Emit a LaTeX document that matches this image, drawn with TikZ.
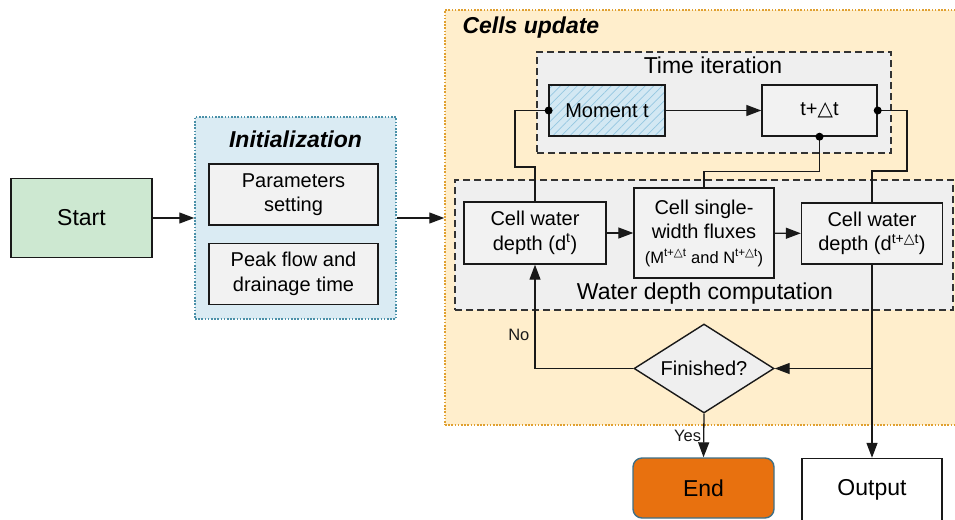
\documentclass[tikz,border=0pt]{standalone}
\usepackage{fontspec}
\setmainfont{Liberation Sans}
\newfontfamily\symfont{DejaVu Sans}
\usepackage{tikz}
\usetikzlibrary{arrows.meta,shapes.geometric,patterns.meta}

\definecolor{startgreen}{HTML}{CDE8D1}
\definecolor{initfill}{HTML}{DAEBF3}
\definecolor{initline}{HTML}{4A90A8}
\definecolor{cellsfill}{HTML}{FFEECC}
\definecolor{cellsline}{HTML}{E0A030}
\definecolor{zonegray}{HTML}{EFEFEF}
\definecolor{boxgray}{HTML}{F2F2F2}
\definecolor{momentfill}{HTML}{D3E8F3}
\definecolor{momenthatch}{HTML}{95C7E1}
\definecolor{endorange}{HTML}{E8710F}
\definecolor{endline}{HTML}{3F7087}

\newcommand{\tri}{{\symfont △}}
\newcommand{\bigfont}{\fontsize{23}{27}\selectfont}
\newcommand{\boxfont}{\fontsize{20}{24.5}\selectfont}
\newcommand{\labfont}{\fontsize{16.5}{20}\selectfont}
\newcommand{\subfont}{\fontsize{16.5}{20}\selectfont}

\tikzset{
  frame/.style={line width=1.5pt, dash pattern=on 1.6pt off 1.6pt, inner sep=0pt},
  zone/.style={draw=black!80, fill=zonegray, line width=1.3pt, dash pattern=on 7pt off 4pt, inner sep=0pt},
  box/.style={draw=black!90, fill=boxgray, line width=1.4pt, inner sep=0pt, align=center, font=\boxfont},
  conn/.style={line width=1.3pt, black!90},
  arr/.style={conn, -{Triangle[length=15pt,width=11pt]}},
  dot/.style={fill=black}
}

\begin{document}
\begin{tikzpicture}[x=1pt,y=-1pt]
  \useasboundingbox (0,0) rectangle (955,519);

  % containers
  \node [frame, draw=cellsline, fill=cellsfill, minimum width=515pt, minimum height=415pt] (cells) at (702.5,217.5) {};
  \node [anchor=west, font=\bigfont\bfseries\itshape] (cellsT) at (459,28) {Cells update};
  \node [frame, draw=initline, fill=initfill, minimum width=201pt, minimum height=202pt] (init) at (295.5,218) {};
  \node [font=\bigfont\bfseries\itshape] (initT) at (295.5,139) {Initialization};
  \node [zone, minimum width=354pt, minimum height=101pt] (timeit) at (714,102.5) {};
  \node [font=\bigfont] (timeT) at (713,65) {Time iteration};
  \node [zone, minimum width=498pt, minimum height=130pt] (water) at (704,245) {};
  \node [font=\bigfont] (waterT) at (705,294) {Water depth computation};

  % nodes
  \node [box, fill=startgreen, font=\bigfont, minimum width=141pt, minimum height=79pt] (start) at (81.5,218) {Start};
  \node [box, minimum width=169pt, minimum height=61pt] (param) at (293.5,194.5) {Parameters\\setting};
  \node [box, minimum width=169pt, minimum height=61pt] (peak) at (293.5,274) {Peak flow and\\drainage time};
  \node [box, preaction={fill=momentfill}, pattern={Lines[angle=45,distance=6pt,line width=0.7pt]}, pattern color=momenthatch,
         minimum width=116pt, minimum height=51pt] (moment) at (607,110.5) {Moment t};
  \node [box, minimum width=115pt, minimum height=51pt] (tdt) at (819.5,110.5) {t+\tri t};
  \node [box, minimum width=142pt, minimum height=62pt] (cwd1) at (535,233) {Cell water\\depth (d\textsuperscript{t})};
  \node [box, minimum width=140pt, minimum height=90pt] (flux) at (704,233) {Cell single-\\width fluxes\\{\subfont(M\textsuperscript{t+\tri t} and N\textsuperscript{t+\tri t})}};
  \node [box, minimum width=141pt, minimum height=61pt] (cwd2) at (872,233.5) {Cell water\\depth (d\textsuperscript{t+\tri t})};
  \node [box, diamond, fill=zonegray, aspect=1.57, minimum width=140pt, minimum height=89pt] (fin) at (704,368.5) {Finished?};
  \node [box, fill=endorange, draw=endline, rounded corners=9pt, font=\bigfont, minimum width=141pt, minimum height=60pt] (endn) at (703.5,488) {End};
  \node [box, fill=white, font=\bigfont, minimum width=140pt, minimum height=62pt] (output) at (872,489.5) {Output};

  % connectors
  \draw [arr] (start.east) -- (init.west);
  \draw [arr] (init.east) -- (init.east -| cells.west);
  \draw [arr] (moment) -- (tdt);
  \draw [conn] (moment.west) -| (515,167) -| (cwd1.north);
  \draw [conn] (tdt.south) -- ++(0,35) -| (flux.north);
  \draw [conn] (tdt.east) -| (907,171) -| (cwd2.north);
  \draw [arr] (cwd1) -- (flux);
  \draw [arr] (flux) -- (cwd2);
  \draw [arr] (fin.west) -| node [pos=0.66, left, font=\labfont, inner sep=5pt] {No} (cwd1.south);
  \draw [arr] (fin.south) -- node [left, font=\labfont, inner sep=2pt] {Yes} (endn.north);
  \draw [arr] (cwd2.south) -- (output.north);
  \draw [arr] (cwd2.south |- fin.east) -- (fin.east);
  \fill [dot] (moment.west) circle [radius=4pt];
  \fill [dot] (tdt.east) circle [radius=4pt];
  \fill [dot] (tdt.south) circle [radius=4pt];
\end{tikzpicture}
\end{document}
